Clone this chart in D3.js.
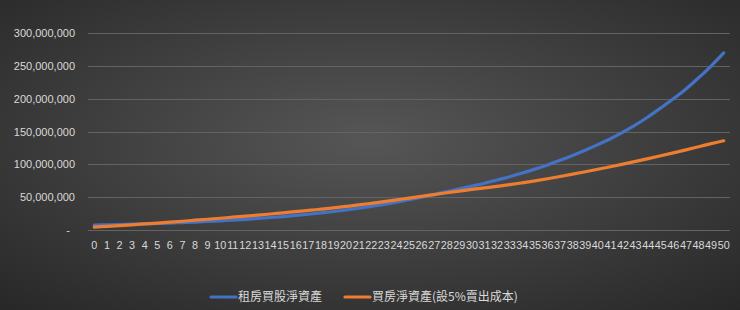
<!DOCTYPE html>
<html>
<head>
<meta charset="utf-8">
<script src="https://cdn.jsdelivr.net/npm/d3@7"></script>
<style>
  html, body { margin: 0; padding: 0; background: #2b2b2b; }
  svg { display: block; }
</style>
</head>
<body>
<svg id="chart" width="740" height="310"></svg>
<script>
// years 0..50
const years = d3.range(0, 51);

// 租房買股淨資產 (values in millions)
const rentInvest = [
  7.0, 7.4, 7.9, 8.4, 8.9, 9.5, 10.1, 10.9, 11.7, 12.6,
  13.6, 14.7, 15.9, 17.2, 18.6, 20.1, 21.8, 23.6, 25.6, 27.8,
  30.2, 32.8, 35.6, 38.6, 42.0, 45.7, 49.7, 53.9, 58.1, 62.3,
  66.6, 71.0, 76.0, 81.0, 86.5, 92.5, 99.0, 106.0, 113.5, 121.5,
  130.0, 139.0, 149.0, 160.0, 172.5, 186.0, 200.0, 215.0, 232.0, 250.0,
  270.0
];

// 買房淨資產(設5%賣出成本) (values in millions)
const buyHouse = [
  4.0, 5.1, 6.3, 7.5, 8.8, 10.1, 11.5, 12.9, 14.5, 16.0,
  17.5, 19.1, 20.7, 22.3, 24.0, 25.8, 27.6, 29.4, 31.3, 33.3,
  35.5, 37.8, 40.3, 42.9, 45.6, 48.2, 50.9, 53.7, 56.5, 59.0,
  61.5, 63.9, 66.3, 68.8, 71.6, 74.6, 77.8, 81.2, 84.8, 88.5,
  92.3, 96.2, 100.2, 104.3, 108.5, 112.9, 117.4, 122.0, 126.7, 131.4,
  135.8
];

const yTicks = [0, 50e6, 100e6, 150e6, 200e6, 250e6, 300e6];
const seriesNames = ["租房買股淨資產", "買房淨資產(設5%賣出成本)"];
const colors = ["#4472c4", "#ed7d31"];

const svg = d3.select("#chart");
const W = 740, H = 310;

// dark radial background like the Excel style
const defs = svg.append("defs");
const grad = defs.append("radialGradient")
  .attr("id", "bg")
  .attr("cx", "50%").attr("cy", "45%").attr("r", "75%");
grad.append("stop").attr("offset", "0%").attr("stop-color", "#565656");
grad.append("stop").attr("offset", "100%").attr("stop-color", "#272727");
svg.append("rect").attr("width", W).attr("height", H).attr("fill", "url(#bg)");

const margin = { top: 33, right: 10, bottom: 80, left: 88 };

const x = d3.scaleBand()
  .domain(years)
  .range([margin.left, W - margin.right]);

const y = d3.scaleLinear()
  .domain([0, 300e6])
  .range([229.7, 33.3]);

// gridlines
svg.append("g")
  .selectAll("line")
  .data(yTicks)
  .join("line")
  .attr("x1", margin.left)
  .attr("x2", W - margin.right)
  .attr("y1", (d) => Math.round(y(d)) + 0.5)
  .attr("y2", (d) => Math.round(y(d)) + 0.5)
  .attr("stroke", "#636363")
  .attr("stroke-width", 1);

// y axis labels
const fmt = d3.format(",");
const yAxis = d3.axisLeft(y)
  .tickValues(yTicks)
  .tickSize(0)
  .tickPadding(0)
  .tickFormat((d) => (d === 0 ? "-" : fmt(d)));

svg.append("g")
  .attr("transform", "translate(75,0)")
  .call(yAxis)
  .call((g) => g.select(".domain").remove())
  .call((g) =>
    g.selectAll("text")
      .attr("fill", "#d9d9d9")
      .attr("font-family", "'Liberation Sans', Arial, sans-serif")
      .attr("font-size", 11)
      .attr("dx", (d) => (d === 0 ? -5 : 0))
  );

// x axis labels
const xAxis = d3.axisBottom(x).tickSize(0).tickPadding(0);
svg.append("g")
  .attr("transform", "translate(0,241)")
  .call(xAxis)
  .call((g) => g.select(".domain").remove())
  .call((g) =>
    g.selectAll("text")
      .attr("fill", "#d9d9d9")
      .attr("font-family", "'Liberation Sans', Arial, sans-serif")
      .attr("font-size", 10.8)
      .attr("dy", "0.71em")
  );

// lines
const line = d3.line()
  .x((d, i) => x(years[i]) + x.bandwidth() / 2)
  .y((d) => y(d * 1e6))
  .curve(d3.curveCatmullRom.alpha(0.5));

[rentInvest, buyHouse].forEach((s, i) => {
  svg.append("path")
    .datum(s)
    .attr("fill", "none")
    .attr("stroke", colors[i])
    .attr("stroke-width", 3.2)
    .attr("stroke-linecap", "round")
    .attr("stroke-linejoin", "round")
    .attr("d", line);
});

// legend
const legendX = [211, 345];
const legend = svg.append("g").attr("transform", "translate(0,297)");
seriesNames.forEach((name, i) => {
  legend.append("line")
    .attr("x1", legendX[i]).attr("x2", legendX[i] + 25)
    .attr("y1", 0).attr("y2", 0)
    .attr("stroke", colors[i])
    .attr("stroke-width", 3.2)
    .attr("stroke-linecap", "round");
  legend.append("text")
    .attr("x", legendX[i] + 27)
    .attr("y", 0)
    .attr("dy", "0.35em")
    .attr("fill", "#d9d9d9")
    .attr("font-family", "'Noto Sans CJK TC', 'Noto Sans', sans-serif")
    .attr("font-size", 12)
    .text(name);
});
</script>
</body>
</html>
